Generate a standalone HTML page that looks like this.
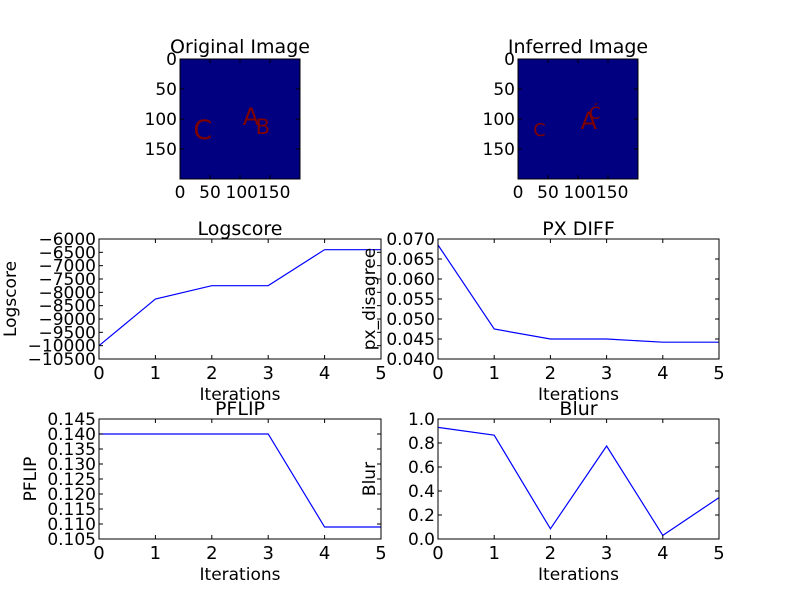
<!DOCTYPE html>
<html><head><meta charset="utf-8"><style>
body{margin:0;background:#fff}
svg text{font-family:"DejaVu Sans","Liberation Sans",sans-serif;fill:#000}
</style></head><body>
<svg id="fig" width="800" height="600" viewBox="0 0 800 600"></svg>
<script>
const iterations=[0,1,2,3,4,5];
const logscoreValues=[-10000,-8250,-7750,-7750,-6400,-6400];
const logscoreTicks=[-10500,-10000,-9500,-9000,-8500,-8000,-7500,-7000,-6500,-6000];
const pxdiffValues=[0.0685,0.0475,0.045,0.045,0.0442,0.0442];
const pxdiffTicks=[0.040,0.045,0.050,0.055,0.060,0.065,0.070];
const pflipValues=[0.140,0.140,0.140,0.140,0.109,0.109];
const pflipTicks=[0.105,0.110,0.115,0.120,0.125,0.130,0.135,0.140,0.145];
const blurValues=[0.93,0.865,0.085,0.775,0.03,0.345];
const blurTicks=[0.0,0.2,0.4,0.6,0.8,1.0];
const imgTicks=[0,50,100,150];
const NS="http://www.w3.org/2000/svg";
const svg=document.getElementById('fig');
function el(tag,attrs,parent){const e=document.createElementNS(NS,tag);for(const k in attrs)e.setAttribute(k,attrs[k]);(parent||svg).appendChild(e);return e;}
function txt(s,x,y,size,anchor,parent,rot){const t=el('text',{x:x,y:y,'font-size':size,'text-anchor':anchor||'middle'},parent);if(rot)t.setAttribute('transform',`rotate(-90 ${x} ${y})`);t.textContent=s;return t;}
function fmt(v,dec){return (v<0?'\u2212':'')+Math.abs(v).toFixed(dec);}
function panel(name,L,T,W,H,xs,ys,yTicks,dec,title,ylabel){
  const g=el('g',{});
  
  
  const y0=yTicks[0],y1=yTicks[yTicks.length-1];
  const sx=v=>L+v/5*W, sy=v=>T+H-(v-y0)/(y1-y0)*H;
  const pts=xs.map((x,i)=>sx(x)+','+sy(ys[i])).join(' ');
  const line=el('polyline',{points:pts,fill:'none',stroke:'#0000ff','stroke-width':1.2},g);
  
  
  [0,1,2,3,4,5].forEach(v=>{const x=sx(v);el('line',{x1:x,y1:T,x2:x,y2:T+4,stroke:'#000'},g);el('line',{x1:x,y1:T+H,x2:x,y2:T+H-4,stroke:'#000'},g);txt(String(v),x,T+H+20,18,'middle',g);});
  yTicks.forEach(v=>{const y=sy(v);el('line',{x1:L,y1:y,x2:L+4,y2:y,stroke:'#000'},g);el('line',{x1:L+W,y1:y,x2:L+W-4,y2:y,stroke:'#000'},g);const t=txt(fmt(v,dec),L-3,y+6,17,'end',g);});
  el('rect',{x:L,y:T,width:W,height:H,fill:'none',stroke:'#000'},g);
  const tt=txt(title,L+W/2,T-4,19,'middle',g);
  
  
  txt('Iterations',L+W/2,T+H+41,17,'middle',g);
  const yl=txt(ylabel,L-(dec===0?83:63),T+H/2,17,'middle',g,true);
  
  
}
function image(name,L,T,title,letters){
  const g=el('g',{});
  
  
  const s=0.6;
  el('rect',{x:L,y:T,width:120,height:120,fill:'#000080'},g);
  letters.forEach(l=>{const t=txt(l[0],L+l[1]*s,T+l[2]*s,l[3]*s,'middle',g);t.style.fill='#800000';});
  imgTicks.forEach(v=>{const p=v*s;
    el('line',{x1:L+p,y1:T,x2:L+p,y2:T+4,stroke:'#000'},g);el('line',{x1:L+p,y1:T+120,x2:L+p,y2:T+116,stroke:'#000'},g);
    el('line',{x1:L,y1:T+p,x2:L+4,y2:T+p,stroke:'#000'},g);el('line',{x1:L+120,y1:T+p,x2:L+116,y2:T+p,stroke:'#000'},g);
    txt(String(v),L-3,T+p+6,17,'end',g);});
  txt('0',L,T+139,17,'middle',g);txt('50',L+30,T+139,17,'middle',g);txt('100150',L+78,T+139,17,'middle',g);
  el('rect',{x:L,y:T,width:120,height:120,fill:'none',stroke:'#000'},g);
  txt(title,L+60,T-6,19,'middle',g);
}
image('original-image',180,59,'Original Image',[['C',38,133,45],['A',118,110,40],['B',138,125,35]]);
image('inferred-image',518,59,'Inferred Image',[['C',36,128,30],['A',118,117,40],['\u0106',128,100,28]]);
panel('logscore',99,239,282,120,iterations,logscoreValues,logscoreTicks,0,'Logscore','Logscore');
panel('px-diff',438,239,281,120,iterations,pxdiffValues,pxdiffTicks,3,'PX DIFF','px_disagree');
panel('pflip',99,419,282,120,iterations,pflipValues,pflipTicks,3,'PFLIP','PFLIP');
panel('blur',438,419,281,120,iterations,blurValues,blurTicks,1,'Blur','Blur');
</script>
</body></html>
